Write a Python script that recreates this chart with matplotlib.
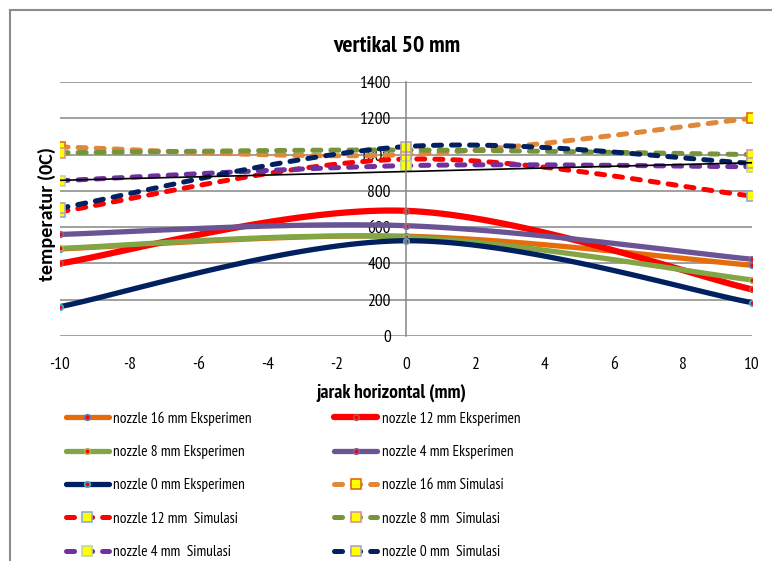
import numpy as np
import matplotlib.pyplot as plt
from matplotlib.lines import Line2D

plt.rcParams["font.family"] = ["PT Sans Narrow", "DejaVu Sans"]
plt.rcParams["lines.scale_dashes"] = False
plt.rcParams["axes.unicode_minus"] = False

# horizontal positions of the measurement points (mm)
x_pos = [-10, 0, 10]

# measured temperatures (experiment)
exp_16 = [480, 550, 390]
exp_12 = [400, 690, 257]
exp_8 = [483, 545, 309]
exp_4 = [560, 608, 423]
exp_0 = [162, 525, 184]

# simulated temperatures
sim_16 = [1042, 1000, 1200]
sim_12 = [685, 975, 772]
sim_8 = [1010, 1025, 1000]
sim_4 = [856, 939, 933]
sim_0 = [705, 1044, 952]

# straight reference line
trend_x = [-10, 10]
trend_y = [858, 955]

labels = [
    "nozzle 16 mm Eksperimen", "nozzle 12 mm Eksperimen",
    "nozzle 8 mm Eksperimen", "nozzle 4 mm Eksperimen",
    "nozzle 0 mm Eksperimen", "nozzle 16 mm Simulasi",
    "nozzle 12 mm  Simulasi", "nozzle 8 mm  Simulasi",
    "nozzle 4 mm  Simulasi", "nozzle 0 mm  Simulasi",
]


def smooth(xs, ys, n=40):
    # excel-like smoothed line: cubic bezier with catmull-rom control points
    pts = np.column_stack([xs, ys]).astype(float)
    ext = np.vstack([pts[0], pts, pts[-1]])
    t = np.linspace(0, 1, n, endpoint=False)[:, None]
    segs = []
    for i in range(len(pts) - 1):
        p0, p1, p2, p3 = ext[i], ext[i + 1], ext[i + 2], ext[i + 3]
        c1 = p1 + (p2 - p0) / 6
        c2 = p2 - (p3 - p1) / 6
        segs.append((1 - t) ** 3 * p1 + 3 * (1 - t) ** 2 * t * c1
                    + 3 * (1 - t) * t ** 2 * c2 + t ** 3 * p2)
    segs.append(pts[-1][None, :])
    return np.vstack(segs)


W, H = 772, 561
fig = plt.figure(figsize=(W / 100, H / 100), dpi=100)
ax = fig.add_axes([60 / W, 1 - 336 / H, (752 - 60) / W, (336 - 82) / H])

dash = (5.8, 7.2)
series = [
    (exp_16, dict(color="#E46C0A", lw=3.8), dict(marker="o", ms=4, mfc="red", mec="#4F81BD")),
    (exp_12, dict(color="#FF0000", lw=4.5), dict(marker="o", ms=4, mfc="red", mec="#C0504D")),
    (exp_8, dict(color="#84A546", lw=3.8), dict(marker="o", ms=4, mfc="red", mec="#9BBB59")),
    (exp_4, dict(color="#6B5494", lw=3.8), dict(marker="o", ms=4, mfc="red", mec="#8064A2")),
    (exp_0, dict(color="#002060", lw=3.8), dict(marker="o", ms=4, mfc="red", mec="#4BACC6")),
    (sim_16, dict(color="#E0873A", lw=3.6, dashes=dash), dict(marker="s", ms=7.5, mfc="yellow", mec="#E46C0A")),
    (sim_12, dict(color="#FF0000", lw=3.6, dashes=dash), dict(marker="s", ms=7.5, mfc="yellow", mec="#8EA9DB")),
    (sim_8, dict(color="#77933C", lw=3.6, dashes=dash), dict(marker="s", ms=7.5, mfc="yellow", mec="#D99694")),
    (sim_4, dict(color="#7030A0", lw=3.6, dashes=dash), dict(marker="s", ms=7.5, mfc="yellow", mec="#C3D69B")),
    (sim_0, dict(color="#002060", lw=3.6, dashes=dash), dict(marker="s", ms=7.5, mfc="yellow", mec="#B3A2C7")),
]

handles = []
for vals, line_kw, mark_kw in series:
    curve = smooth(x_pos, vals)
    ax.plot(curve[:, 0], curve[:, 1], solid_capstyle="round",
            dash_capstyle="round", **line_kw)
    ax.plot(x_pos, vals, ls="none", mew=1.2, **mark_kw)
    handles.append(Line2D([], [], solid_capstyle="round", dash_capstyle="round",
                          mew=1.2, **line_kw, **mark_kw))

ax.plot(trend_x, trend_y, color="black", lw=1.2)

ax.set_xlim(-10, 10)
ax.set_ylim(0, 1400)
ax.set_xticks(range(-10, 11, 2))
ax.set_yticks(range(0, 1401, 200))
ax.grid(axis="y", color="#868686", lw=1.1)
ax.set_axisbelow(True)
for side in ["top", "right", "bottom"]:
    ax.spines[side].set_visible(False)
ax.spines["left"].set_position(("data", 0))
ax.spines["left"].set_color("#868686")
ax.spines["left"].set_linewidth(1.1)
ax.tick_params(axis="y", length=0, pad=11, labelsize=12.5)
ax.tick_params(axis="x", length=0, pad=15, labelsize=12.5)

fig.text(397 / W, 1 - 51.5 / H, "vertikal 50 mm", ha="center", va="baseline",
         fontsize=17, fontweight="bold")
fig.text(47 / W, 1 - 214 / H, "temperatur (0C)", ha="center", va="center",
         rotation=90, fontsize=14.5, fontweight="bold", family="Carlito")
fig.text(391 / W, 1 - 398 / H, "jarak horizontal (mm)", ha="center", va="baseline",
         fontsize=14, fontweight="bold")

# legend is filled row by row, two entries per row
order = [0, 2, 4, 6, 8, 1, 3, 5, 7, 9]
fig.legend([handles[i] for i in order], [labels[i] for i in order],
           ncol=2, loc="upper left", bbox_to_anchor=(66 / W, 1 - 411 / H),
           frameon=False, fontsize=11, borderpad=0, borderaxespad=0,
           handlelength=2.8, handletextpad=0.3, columnspacing=5.4,
           labelspacing=1.27, numpoints=1)

# chart area border
fig.add_artist(Line2D([10 / W, 1], [1 - 10 / H, 1 - 10 / H], color="#8C8C8C", lw=1.5))
fig.add_artist(Line2D([10 / W, 10 / W], [0, 1 - 10 / H], color="#8C8C8C", lw=1.5))

fig.savefig("out.png", dpi=100)
